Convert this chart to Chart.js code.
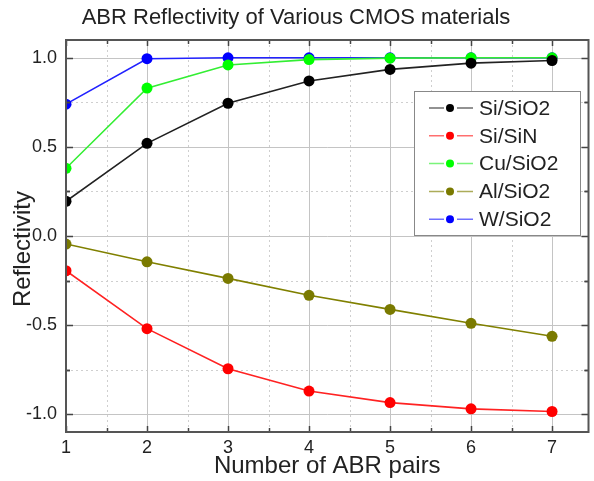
<!DOCTYPE html>
<html>
<head>
<meta charset="utf-8">
<script src="https://cdn.jsdelivr.net/npm/chart.js@4/dist/chart.umd.min.js"></script>
<style>
  html, body { margin: 0; padding: 0; background: #fff; }
  #wrap { width: 594px; height: 481px; }
</style>
</head>
<body>
<div id="wrap"><canvas id="abrChart"></canvas></div>
<script>
// data
const pairs = [1, 2, 3, 4, 5, 6, 7];
const siSio2 = [0.195, 0.52, 0.745, 0.87, 0.935, 0.97, 0.985];
const siSin = [-0.195, -0.52, -0.745, -0.87, -0.935, -0.97, -0.985];
const cuSio2 = [0.38, 0.83, 0.96, 0.99, 0.998, 1.0, 1.0];
const alSio2 = [-0.045, -0.145, -0.238, -0.333, -0.412, -0.49, -0.563];
const wSio2 = [0.74, 0.995, 1.0, 1.0, 1.0, 1.0, 1.0];

const seriesNames = ['Si/SiO2', 'Si/SiN', 'Cu/SiO2', 'Al/SiO2', 'W/SiO2'];
const seriesValues = [siSio2, siSin, cuSio2, alSio2, wSio2];
const lineColors = ['#222222', '#ff2222', '#33ee33', '#808000', '#2222ff'];
const dotColors = ['#000000', '#ff0000', '#00ff00', '#7a7a00', '#0000ff'];

const xTicks = [1, 2, 3, 4, 5, 6, 7];
const yTicks = [-1.0, -0.5, 0.0, 0.5, 1.0];
const yTitle = 'Reflectivity';

const FONT = 'Liberation Sans, Arial, sans-serif';

// grid lines under the data (major solid, minor dotted)
const gridPlugin = {
    id: 'gridPlugin',
    beforeDatasetsDraw(chart) {
        const ctx = chart.ctx;
        const a = chart.chartArea;
        const xs = chart.scales.x, ys = chart.scales.y;
        ctx.save();
        ctx.lineWidth = 1;
        ctx.strokeStyle = '#cfcfcf';
        ctx.setLineDash([2, 3]);
        xTicks.forEach(v => {
            const px = Math.round(xs.getPixelForValue(v + 0.5)) + 0.5;
            if (px < a.right) { ctx.beginPath(); ctx.moveTo(px, a.top); ctx.lineTo(px, a.bottom); ctx.stroke(); }
        });
        yTicks.forEach(v => {
            [v - 0.25, v + 0.25].forEach(m => {
                const py = Math.round(ys.getPixelForValue(m)) + 0.5;
                if (py > a.top && py < a.bottom) { ctx.beginPath(); ctx.moveTo(a.left, py); ctx.lineTo(a.right, py); ctx.stroke(); }
            });
        });
        ctx.setLineDash([]);
        ctx.strokeStyle = '#c4c4c4';
        xTicks.forEach(v => {
            const px = Math.round(xs.getPixelForValue(v)) + 0.5;
            ctx.beginPath(); ctx.moveTo(px, a.top); ctx.lineTo(px, a.bottom); ctx.stroke();
        });
        yTicks.forEach(v => {
            const py = Math.round(ys.getPixelForValue(v)) + 0.5;
            ctx.beginPath(); ctx.moveTo(a.left, py); ctx.lineTo(a.right, py); ctx.stroke();
        });
        ctx.restore();
    }
};

// frame with inward ticks on all sides, y title, and the legend box
const framePlugin = {
    id: 'framePlugin',
    afterDraw(chart) {
        const ctx = chart.ctx;
        const a = chart.chartArea;
        const xs = chart.scales.x, ys = chart.scales.y;
        ctx.save();
        ctx.strokeStyle = '#444';
        ctx.lineWidth = 1.5;
        xTicks.forEach(v => {
            [[v, 6], [v + 0.5, 4]].forEach(([t, len]) => {
                const px = Math.round(xs.getPixelForValue(t)) + 0.5;
                if (px >= a.right) return;
                ctx.beginPath();
                ctx.moveTo(px, a.bottom); ctx.lineTo(px, a.bottom - len);
                ctx.moveTo(px, a.top); ctx.lineTo(px, a.top + len);
                ctx.stroke();
            });
        });
        yTicks.forEach(v => {
            [[v, 7], [v + 0.25, 4], [v - 0.25, 4]].forEach(([t, len]) => {
                const py = Math.round(ys.getPixelForValue(t)) + 0.5;
                if (py <= a.top || py >= a.bottom) return;
                ctx.beginPath();
                ctx.moveTo(a.left, py); ctx.lineTo(a.left + len, py);
                ctx.moveTo(a.right, py); ctx.lineTo(a.right - len, py);
                ctx.stroke();
            });
        });
        ctx.strokeStyle = '#555';
        ctx.lineWidth = 2;
        ctx.strokeRect(a.left, a.top, a.right - a.left, a.bottom - a.top);

        // y axis title, a bit below the plot centre like the reference
        ctx.save();
        ctx.translate(23, 249);
        ctx.rotate(-Math.PI / 2);
        ctx.font = '24px ' + FONT;
        ctx.fillStyle = '#222';
        ctx.textAlign = 'center';
        ctx.textBaseline = 'middle';
        ctx.fillText(yTitle, 0, 0);
        ctx.restore();

        // legend
        const bx = 414, by = 91, bw = 166, bh = 144;
        ctx.fillStyle = '#fff';
        ctx.fillRect(bx, by, bw, bh);
        ctx.strokeStyle = '#888';
        ctx.lineWidth = 1;
        ctx.strokeRect(bx + 0.5, by + 0.5, bw, bh);
        ctx.font = '21px ' + FONT;
        ctx.textBaseline = 'middle';
        seriesNames.forEach((name, i) => {
            const cy = by + 17 + i * 27.8;
            ctx.strokeStyle = lineColors[i];
            ctx.globalAlpha = 0.65;
            ctx.lineWidth = 1.5;
            ctx.beginPath();
            ctx.moveTo(429, cy); ctx.lineTo(444, cy);
            ctx.moveTo(457, cy); ctx.lineTo(473, cy);
            ctx.stroke();
            ctx.globalAlpha = 1;
            ctx.fillStyle = dotColors[i];
            ctx.beginPath(); ctx.arc(450, cy, 4, 0, Math.PI * 2); ctx.fill();
            ctx.fillStyle = '#222';
            ctx.fillText(name, 479, cy + 1);
        });
        ctx.restore();
    }
};

const datasets = seriesNames.map((name, i) => ({
    label: name,
    data: pairs.map((p, j) => ({ x: p, y: seriesValues[i][j] })),
    borderColor: lineColors[i],
    borderWidth: 1.6,
    backgroundColor: dotColors[i],
    pointBackgroundColor: dotColors[i],
    pointBorderWidth: 0,
    pointRadius: 5.5,
    tension: 0,
    clip: 0
}));

new Chart(document.getElementById('abrChart'), {
    type: 'line',
    data: { datasets: datasets },
    options: {
        responsive: true,
        maintainAspectRatio: false,
        animation: false,
        layout: { padding: { top: 0, right: 2, left: 0, bottom: 0 } },
        plugins: {
            legend: { display: false },
            tooltip: { enabled: false },
            title: {
                display: true,
                text: 'ABR Reflectivity of Various CMOS materials',
                color: '#222',
                font: { family: FONT, size: 22, weight: 'normal' },
                padding: { top: 5, bottom: 8.6 }
            }
        },
        scales: {
            x: {
                type: 'linear',
                min: 1,
                max: 7.45,
                afterFit: s => { s.height = 49; },
                afterBuildTicks: s => { s.ticks = xTicks.map(v => ({ value: v })); },
                grid: { display: false, drawTicks: false },
                border: { display: false },
                ticks: {
                    padding: 5,
                    color: '#222',
                    font: { family: FONT, size: 18 },
                    maxRotation: 0,
                    autoSkip: false
                },
                title: {
                    display: true,
                    text: 'Number of ABR pairs',
                    color: '#222',
                    font: { family: FONT, size: 24 },
                    padding: { top: 0, bottom: 0 }
                }
            },
            y: {
                min: -1.1,
                max: 1.1,
                afterFit: s => { s.width = 66; },
                afterBuildTicks: s => { s.ticks = yTicks.map(v => ({ value: v })); },
                grid: { display: false, drawTicks: false },
                border: { display: false },
                ticks: {
                    padding: 9,
                    color: '#222',
                    font: { family: FONT, size: 18 },
                    callback: v => v.toFixed(1)
                },
                title: { display: false }
            }
        }
    },
    plugins: [gridPlugin, framePlugin]
});
</script>
</body>
</html>
